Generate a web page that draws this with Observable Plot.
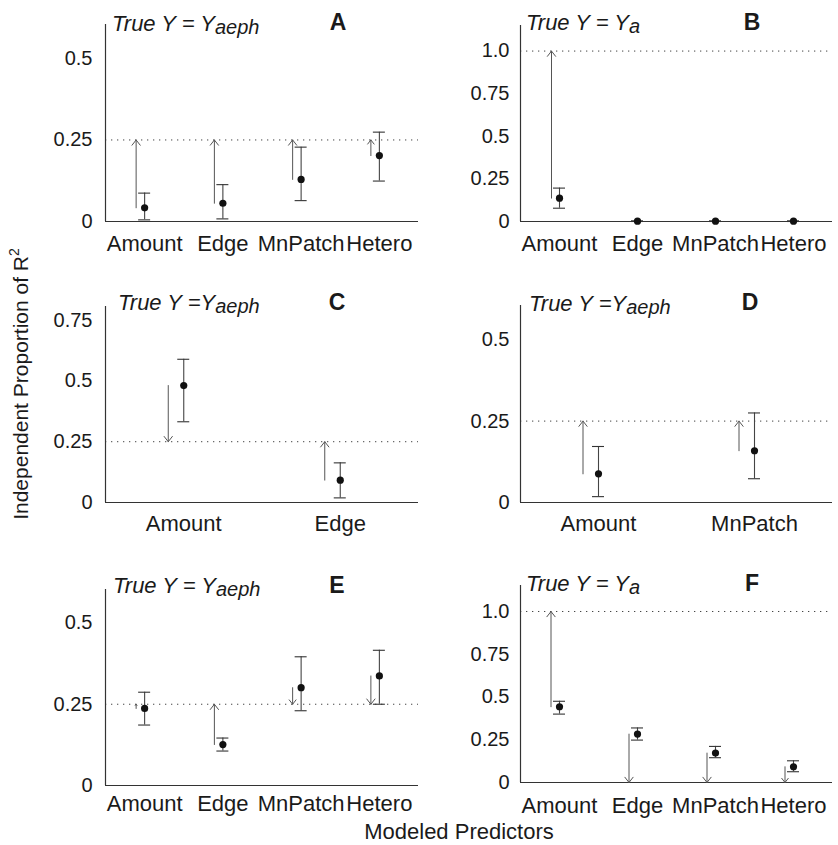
<!DOCTYPE html>
<html>
<head>
<meta charset="utf-8">
<script src="https://cdn.jsdelivr.net/npm/d3@7"></script>
<script src="https://cdn.jsdelivr.net/npm/@observablehq/plot@0.6"></script>
<style>
  body { margin: 0; background: #fff; }
  #root { position: relative; width: 838px; height: 845px; font-family: "Liberation Sans", Arial, Helvetica, sans-serif; }
  .panel { position: absolute; }
  #overlay { position: absolute; left: 0; top: 0; pointer-events: none; }
</style>
</head>
<body>
<div id="root"></div>
<script>
// ---------------- DATA ----------------
const panelLetters = ["A", "B", "C", "D", "E", "F"];
const titleMain = ["True Y = Y", "True Y = Y", "True Y =Y", "True Y =Y", "True Y = Y", "True Y = Y"];
const titleSub = ["aeph", "a", "aeph", "aeph", "aeph", "a"];
const xTitle = "Modeled Predictors";
const yTitle = "Independent Proportion of R";
const yTitleSup = "2";

const catsA = ["Amount", "Edge", "MnPatch", "Hetero"];
const estA  = [0.042, 0.056, 0.129, 0.202];
const lowA  = [0.005, 0.008, 0.064, 0.124];
const highA = [0.087, 0.113, 0.228, 0.274];
const trueA = [0.25, 0.25, 0.25, 0.25];
const refA = 0.25;

const catsB = ["Amount", "Edge", "MnPatch", "Hetero"];
const estB  = [0.137, 0.002, 0.002, 0.002];
const lowB  = [0.078, 0.0, 0.0, 0.0];
const highB = [0.196, 0.004, 0.004, 0.004];
const trueB = [1.0, 0, 0, 0];
const refB = 1.0;

const catsC = ["Amount", "Edge"];
const estC  = [0.481, 0.092];
const lowC  = [0.332, 0.019];
const highC = [0.589, 0.163];
const trueC = [0.25, 0.25];
const refC = 0.25;

const catsD = ["Amount", "MnPatch"];
const estD  = [0.088, 0.159];
const lowD  = [0.018, 0.073];
const highD = [0.172, 0.275];
const trueD = [0.25, 0.25];
const refD = 0.25;

const catsE = ["Amount", "Edge", "MnPatch", "Hetero"];
const estE  = [0.237, 0.126, 0.301, 0.337];
const lowE  = [0.186, 0.106, 0.230, 0.250];
const highE = [0.287, 0.146, 0.396, 0.416];
const trueE = [0.25, 0.25, 0.25, 0.25];
const refE = 0.25;

const catsF = ["Amount", "Edge", "MnPatch", "Hetero"];
const estF  = [0.443, 0.283, 0.172, 0.092];
const lowF  = [0.400, 0.248, 0.145, 0.063];
const highF = [0.475, 0.319, 0.211, 0.127];
const trueF = [1.0, 0, 0, 0];
const refF = 1.0;

const yTicksSmall = [0, 0.25, 0.5];
const yTicksMid = [0, 0.25, 0.5, 0.75];
const yTicksBig = [0, 0.25, 0.5, 0.75, 1.0];
const yTickLabels = {0: "0", 0.25: "0.25", 0.5: "0.5", 0.75: "0.75", 1: "1.0"};

// ---------------- LAYOUT ----------------
const data = [
  {cats: catsA, est: estA, low: lowA, high: highA, tru: trueA, ref: refA, ticks: yTicksSmall, ymax: 0.604},
  {cats: catsB, est: estB, low: lowB, high: highB, tru: trueB, ref: refB, ticks: yTicksBig, ymax: 1.15},
  {cats: catsC, est: estC, low: lowC, high: highC, tru: trueC, ref: refC, ticks: yTicksMid, ymax: 0.806},
  {cats: catsD, est: estD, low: lowD, high: highD, tru: trueD, ref: refD, ticks: yTicksSmall, ymax: 0.605},
  {cats: catsE, est: estE, low: lowE, high: highE, tru: trueE, ref: refE, ticks: yTicksSmall, ymax: 0.603},
  {cats: catsF, est: estF, low: lowF, high: highF, tru: trueF, ref: refF, ticks: yTicksBig, ymax: 1.152}
];
const layout = [
  {left: 0,   width: 420, ml: 105, mr: 2, axisTop: 24,  base: 221, tp: 14, yp: 13, off: 8.5, tx: 112, ty: 31,  lx: 338, ly: 30},
  {left: 420, width: 418, ml: 100, mr: 6, axisTop: 25,  base: 221, tp: 14, yp: 11, off: 8,   tx: 526, ty: 30,  lx: 752, ly: 30},
  {left: 0,   width: 420, ml: 105, mr: 2, axisTop: 306, base: 502, tp: 13, yp: 13, off: 15.5,tx: 118, ty: 310, lx: 337, ly: 310},
  {left: 420, width: 418, ml: 100, mr: 6, axisTop: 305, base: 502, tp: 13, yp: 11, off: 15.5,tx: 529, ty: 311, lx: 750, ly: 310},
  {left: 0,   width: 420, ml: 105, mr: 2, axisTop: 589, base: 785, tp: 10, yp: 13, off: 8.5, tx: 113, ty: 593, lx: 337, ly: 593},
  {left: 420, width: 418, ml: 100, mr: 6, axisTop: 585, base: 782, tp: 15, yp: 11, off: 8.5, tx: 526, ty: 591, lx: 752, ly: 591}
];

const root = document.getElementById("root");
const MT = 10, MB = 45;

data.forEach((p, k) => {
  const L = layout[k];
  const n = p.cats.length;
  const rows = p.cats.map((c, i) => ({x: i + 0.5, c, est: p.est[i], low: p.low[i], high: p.high[i], tru: p.tru[i]}));
  const plotW = L.width - L.ml - L.mr;
  const step = plotW / n;
  const capU = 6 / step;
  const offU = L.off / step;
  const height = (L.base - L.axisTop) + MT + MB;
  const chart = Plot.plot({
    width: L.width,
    height,
    marginLeft: L.ml,
    marginRight: L.mr,
    marginTop: MT,
    marginBottom: MB,
    x: {domain: [0, n], axis: null},
    y: {domain: [0, p.ymax], axis: null},
    style: {fontFamily: '"Liberation Sans", Arial, Helvetica, sans-serif', color: "#1a1a1a", background: "transparent", overflow: "visible"},
    marks: [
      Plot.ruleY([p.ref], {stroke: "#444", strokeDasharray: "1.3,4.7", strokeWidth: 1}),
      Plot.ruleY([0], {stroke: "#333", strokeWidth: 1.2}),
      Plot.ruleX([0], {stroke: "#333", strokeWidth: 1.2}),
      Plot.arrow(rows.filter(d => Math.abs(d.tru - d.est) > 0.004), {
        x1: d => d.x - offU, x2: d => d.x - offU, y1: "est", y2: "tru",
        stroke: "#555", strokeWidth: 1, headLength: 10, headAngle: 76
      }),
      Plot.ruleX(rows, {x: "x", y1: "low", y2: "high", stroke: "#444", strokeWidth: 1.1}),
      Plot.ruleY(rows, {y: "low", x1: d => d.x - capU, x2: d => d.x + capU, stroke: "#333", strokeWidth: 1.1}),
      Plot.ruleY(rows, {y: "high", x1: d => d.x - capU, x2: d => d.x + capU, stroke: "#333", strokeWidth: 1.1}),
      Plot.dot(rows, {x: "x", y: "est", r: 3.6, fill: "#111", stroke: null}),
      Plot.text(rows, {x: "x", y: () => 0, text: "c", lineAnchor: "top", dy: L.tp, fontSize: 22, fill: "#1a1a1a"}),
      Plot.text(p.ticks, {x: () => 0, y: v => v, text: v => yTickLabels[v], textAnchor: "end", dx: -L.yp, fontSize: 20, fill: "#1a1a1a"})
    ]
  });
  const wrap = document.createElement("div");
  wrap.className = "panel";
  wrap.style.left = L.left + "px";
  wrap.style.top = (L.axisTop - MT) + "px";
  wrap.appendChild(chart);
  root.appendChild(wrap);
});

// ---------------- TEXT OVERLAY ----------------
const ov = d3.select(root).append("svg")
  .attr("id", "overlay")
  .attr("width", 838).attr("height", 845)
  .style("font-family", '"Liberation Sans", Arial, Helvetica, sans-serif')
  .style("fill", "#1a1a1a");

layout.forEach((L, k) => {
  const t = ov.append("text")
    .attr("x", L.tx).attr("y", L.ty)
    .attr("font-size", 22).attr("font-style", "italic");
  t.append("tspan").text(titleMain[k]);
  t.append("tspan").attr("font-size", 20).attr("dy", 3).text(titleSub[k]);
  ov.append("text")
    .attr("x", L.lx).attr("y", L.ly)
    .attr("text-anchor", "middle")
    .attr("font-size", 23).attr("font-weight", "bold")
    .text(panelLetters[k]);
});

const yt = ov.append("text")
  .attr("transform", "translate(28,384) rotate(-90)")
  .attr("text-anchor", "middle")
  .attr("font-size", 21);
yt.append("tspan").text(yTitle);
yt.append("tspan").attr("font-size", 14).attr("dy", -9).text(yTitleSup);

ov.append("text")
  .attr("x", 459).attr("y", 839)
  .attr("text-anchor", "middle")
  .attr("font-size", 22)
  .text(xTitle);
</script>
</body>
</html>
